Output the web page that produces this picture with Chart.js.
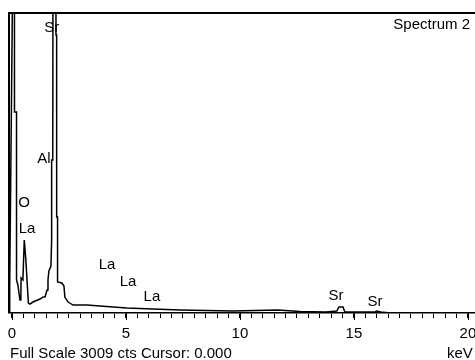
<!DOCTYPE html>
<html>
<head>
<meta charset="utf-8">
<script src="https://cdn.jsdelivr.net/npm/chart.js@4"></script>
<style>
  body { margin: 0; background: #fff; }
  canvas { display: block; }
</style>
</head>
<body>
<canvas id="spectrum" width="475" height="360"></canvas>
<script>
// spectrum trace, energy in keV and counts (full scale 3009 cts)
const energies = [-0.13, -0.11, -0.09, 0.04, 0.11, 0.11, 0.20, 0.20, 0.26, 0.35, 0.39, 0.40, 0.48, 0.54, 0.61, 0.66,
  0.72, 0.79, 0.92, 1.23, 1.36, 1.45, 1.54, 1.58, 1.62, 1.71, 1.74, 1.74, 1.79, 1.80, 1.93, 1.93, 1.96, 1.96,
  2.00, 2.00, 2.19, 2.28, 2.32, 2.46, 2.68, 3.29, 3.86, 5.04, 6.18, 7.37, 9.69, 11.67, 12.63, 13.77, 14.25,
  14.34, 14.52, 14.60, 15.92, 16.00, 16.18, 16.60, 20.31];
const counts = [0, 261, 261, 3600, 3600, 2016, 2016, 331, 281, 130, 130, 351, 331, 732, 532, 331,
  100, 90, 110, 140, 160, 160, 231, 331, 421, 471, 732, 1535, 1535, 3600, 3600, 2788, 2788, 963,
  963, 311, 301, 271, 160, 110, 80, 80, 70, 50, 40, 30, 20, 30, 15, 10, 20,
  60, 60, 10, 10, 20, 10, 0, 0];

// peak labels and where they sit (keV, counts)
const peakNames = ['Sr', 'Al', 'O', 'La', 'La', 'La', 'La', 'Sr', 'Sr'];
const peakEnergies = [1.75, 1.40, 0.53, 0.66, 4.17, 5.09, 6.14, 14.21, 15.92];
const peakCounts = [2859, 1545, 1103, 843, 481, 311, 160, 171, 110];

const xTicks = [];
for (let i = 0; i <= 40; i++) xTicks.push(i / 2);
const xTickLabels = [0, 5, 10, 15, 20];

const FONT = '"Liberation Sans", Arial, sans-serif';

const textPlugin = {
  id: 'eds-text',
  afterDraw(chart) {
    const ctx = chart.ctx;
    const area = chart.chartArea;
    const xs = chart.scales.x, ys = chart.scales.y;
    ctx.save();
    // frame (top + left)
    ctx.strokeStyle = '#000';
    ctx.lineWidth = 2;
    ctx.beginPath();
    ctx.moveTo(area.left, area.bottom);
    ctx.lineTo(area.left, area.top);
    ctx.lineTo(chart.width, area.top);
    ctx.stroke();

    // longer ticks at the labelled values
    ctx.lineWidth = 1;
    xTickLabels.forEach(v => {
      const px = Math.round(xs.getPixelForValue(v)) + 0.5;
      ctx.beginPath();
      ctx.moveTo(px, area.bottom);
      ctx.lineTo(px, area.bottom + 7);
      ctx.stroke();
    });

    ctx.fillStyle = '#000';
    ctx.font = '15px ' + FONT;
    ctx.textAlign = 'center';
    ctx.textBaseline = 'middle';
    peakNames.forEach((name, i) => {
      ctx.fillText(name, xs.getPixelForValue(peakEnergies[i]), ys.getPixelForValue(peakCounts[i]));
    });

    ctx.textBaseline = 'alphabetic';
    ctx.textAlign = 'right';
    ctx.fillText('Spectrum 2', 470, 29);
    ctx.textAlign = 'left';
    ctx.fillText('Full Scale 3009 cts Cursor: 0.000', 10, 358);
    ctx.fillText('keV', 447, 358);
    ctx.restore();
  }
};

new Chart(document.getElementById('spectrum'), {
  type: 'line',
  data: {
    datasets: [{
      data: energies.map((e, i) => ({ x: e, y: counts[i] })),
      borderColor: '#000',
      borderWidth: 1.5,
      pointRadius: 0,
      tension: 0,
      fill: false
    }]
  },
  options: {
    responsive: false,
    animation: false,
    devicePixelRatio: 1,
    layout: { padding: { left: 9, top: 13, right: 0, bottom: 0 } },
    plugins: { legend: { display: false }, tooltip: { enabled: false } },
    scales: {
      x: {
        type: 'linear',
        min: -0.13,
        max: 20.31,
        afterBuildTicks: (scale) => { scale.ticks = xTicks.map(v => ({ value: v })); },
        afterFit: (scale) => {
          scale.height = 47;
          scale.paddingLeft = 0;
          scale.paddingRight = 0;
        },
        ticks: {
          autoSkip: false,
          maxRotation: 0,
          padding: 7,
          color: '#000',
          font: { family: FONT, size: 15 },
          callback: (v) => xTickLabels.includes(v) ? String(v) : ''
        },
        grid: { drawOnChartArea: false, drawTicks: true, tickLength: 5, color: '#000', lineWidth: 1 },
        border: { display: true, color: '#000', width: 1.5 }
      },
      y: {
        display: false,
        min: 0,
        max: 3009
      }
    }
  },
  plugins: [textPlugin]
});
</script>
</body>
</html>
